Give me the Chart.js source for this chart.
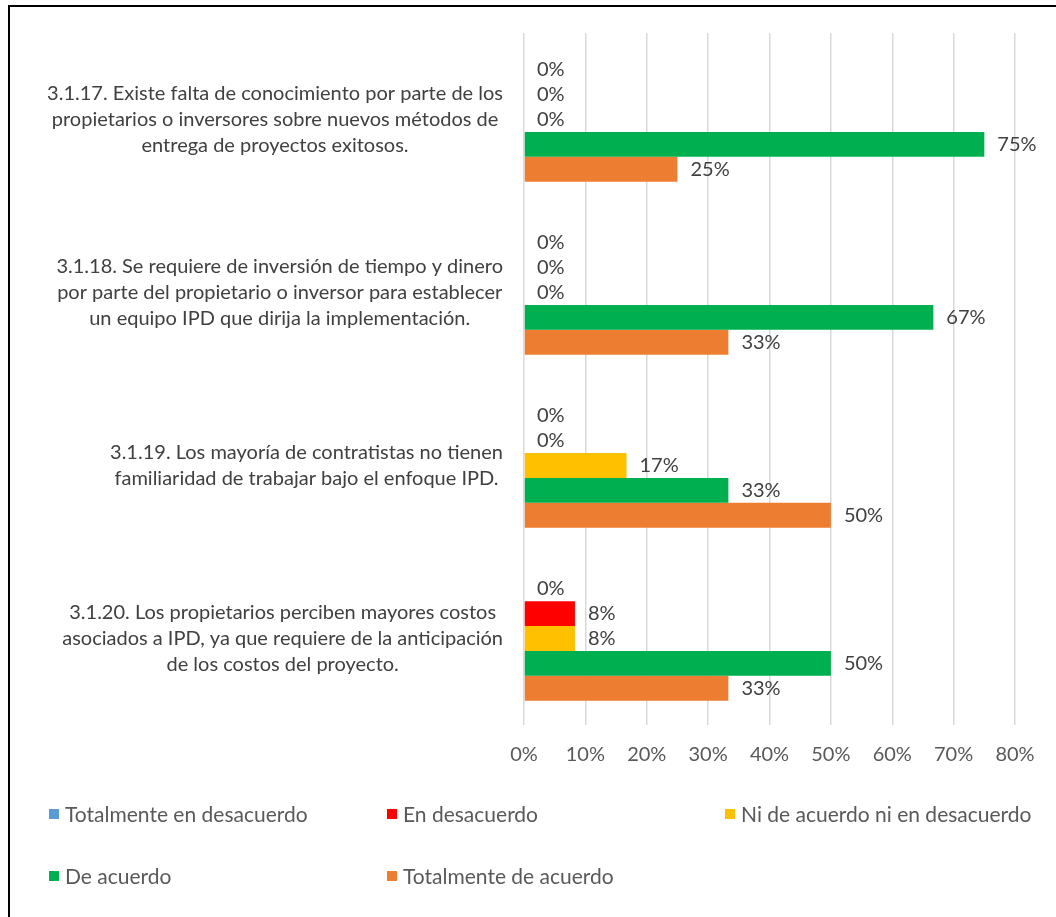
<!DOCTYPE html>
<html>
<head>
<meta charset="utf-8">
<script src="https://cdn.jsdelivr.net/npm/chart.js@4.4.1/dist/chart.umd.min.js"></script>
<style>
  html, body { margin: 0; padding: 0; background: #fff; overflow: hidden; }
  #wrap { position: relative; width: 1056px; height: 917px; }
  #chart { position: absolute; left: 0; top: 0; }
  #frame {
    position: absolute; left: 8px; top: 5px; width: 1200px; height: 1100px;
    border: 2px solid #000; pointer-events: none;
  }
  #legend {
    position: absolute; left: 49px; top: 801px;
    display: grid; grid-template-columns: 338px 338px auto; row-gap: 37px;
    font-family: Lato, sans-serif; font-size: 21px; color: #595959;
  }
  #legend div { display: flex; align-items: center; height: 25px; }
  #legend span.box { display: inline-block; width: 10px; height: 10px; margin-right: 6px; }
</style>
</head>
<body>
<div id="wrap">
  <canvas id="chart" width="1056" height="917"></canvas>
  <div id="legend"></div>
  <div id="frame"></div>
</div>
<script>
// Categories (each one split in lines like the original)
const categories = [
  ['3.1.17. Existe falta de conocimiento por parte de los', 'propietarios o inversores sobre nuevos métodos de', 'entrega de proyectos exitosos.'],
  ['3.1.18. Se requiere de inversión de tiempo y dinero', 'por parte del propietario o inversor para establecer', 'un equipo IPD que dirija la implementación.'],
  ['3.1.19. Los mayoría de contratistas no tienen', 'familiaridad de trabajar bajo el enfoque IPD.'],
  ['3.1.20. Los propietarios perciben mayores costos', 'asociados a IPD, ya que requiere de la anticipación', 'de los costos del proyecto.'],
];

const seriesNames = [
  'Totalmente en desacuerdo',
  'En desacuerdo',
  'Ni de acuerdo ni en desacuerdo',
  'De acuerdo',
  'Totalmente de acuerdo',
];

// values in percent
const totDesacuerdo = [0, 0, 0, 0];
const enDesacuerdo = [0, 0, 0, 8.3];
const niNi = [0, 0, 16.7, 8.3];
const deAcuerdo = [75, 66.7, 33.3, 50];
const totAcuerdo = [25, 33.3, 50, 33.3];

const xTicks = [0, 10, 20, 30, 40, 50, 60, 70, 80];

const seriesColors = ['#5B9BD5', '#FF0000', '#FFC000', '#00B050', '#ED7D31'];
const FONT = 'Lato, sans-serif';
const FSIZE = 20;

const values = [totDesacuerdo, enDesacuerdo, niNi, deAcuerdo, totAcuerdo];

// draws the % labels right of each bar
const barLabels = {
  id: 'barLabels',
  afterDatasetsDraw(c) {
    const ctx = c.ctx;
    ctx.save();
    ctx.font = `${FSIZE}px ${FONT}`;
    ctx.fillStyle = '#404040';
    ctx.textAlign = 'left';
    ctx.textBaseline = 'middle';
    c.data.datasets.forEach((ds, i) => {
      c.getDatasetMeta(i).data.forEach((bar, j) => {
        ctx.fillText(Math.round(ds.data[j]) + '%', bar.x + 13, bar.y);
      });
    });
    ctx.restore();
  },
};

// category labels: block right aligned, lines centered within block
const catLabels = {
  id: 'catLabels',
  afterDraw(c) {
    const ctx = c.ctx;
    const yScale = c.scales.y;
    const right = c.chartArea.left - 21;
    const lh = 26;
    ctx.save();
    ctx.font = `${FSIZE}px ${FONT}`;
    ctx.fillStyle = '#404040';
    ctx.textAlign = 'center';
    ctx.textBaseline = 'middle';
    categories.forEach((lines, i) => {
      const w = Math.max(...lines.map(l => ctx.measureText(l).width));
      const cx = right - w / 2;
      const cy = yScale.getPixelForValue(i);
      lines.forEach((l, k) => {
        ctx.fillText(l, cx, cy + (k - (lines.length - 1) / 2) * lh);
      });
    });
    ctx.restore();
  },
};

const chart = new Chart(document.getElementById('chart'), {
  type: 'bar',
  data: {
    labels: categories.map(c => c.join(' ')),
    datasets: seriesNames.map((name, i) => ({
      label: name,
      data: values[i],
      backgroundColor: seriesColors[i],
      barPercentage: 1,
      categoryPercentage: 0.72,
    })),
  },
  options: {
    indexAxis: 'y',
    responsive: false,
    animation: false,
    layout: {
      padding: { top: 33, left: 0, right: 41, bottom: 142 },
    },
    scales: {
      x: {
        min: 0,
        max: 80,
        afterFit: (s) => { s.height = 50; },
        afterBuildTicks: (s) => { s.ticks = xTicks.map(v => ({ value: v })); },
        grid: { color: '#d9d9d9', lineWidth: 1.5, drawTicks: false },
        border: { display: false },
        ticks: {
          padding: 18,
          color: '#595959',
          font: { family: FONT, size: FSIZE },
          callback: (v) => v + '%',
        },
      },
      y: {
        afterFit: (s) => { s.width = 524; },
        grid: { display: false },
        border: { display: false },
        ticks: { display: false },
      },
    },
    plugins: {
      legend: { display: false },
      tooltip: { enabled: false },
    },
  },
  plugins: [barLabels, catLabels],
});

// html legend
const legendEl = document.getElementById('legend');
chart.data.datasets.forEach((ds) => {
  const item = document.createElement('div');
  const box = document.createElement('span');
  box.className = 'box';
  box.style.background = ds.backgroundColor;
  item.appendChild(box);
  item.appendChild(document.createTextNode(ds.label));
  legendEl.appendChild(item);
});
</script>
</body>
</html>
